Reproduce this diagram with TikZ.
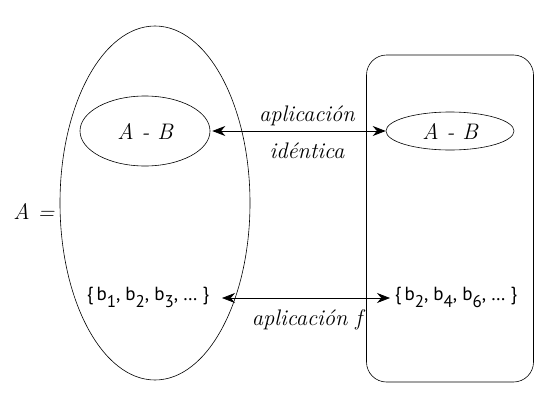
\documentclass[tikz,border=0pt]{standalone}
\usepackage{fontspec}
\newfontfamily\bsans{PT Sans}
\usetikzlibrary{arrows.meta,shapes.geometric}
\newcommand{\bsub}[1]{\raisebox{-7pt}{\fontsize{17}{18}\selectfont #1}}
\tikzset{
  lbl/.style={font=\rmfamily\fontsize{22.5}{25}\selectfont\itshape},
  setlbl/.style={font=\bsans\fontsize{19}{21}\selectfont},
  conn/.style={line width=0.7pt,{Stealth[length=13pt,width=10pt]}-{Stealth[length=13pt,width=10pt]}},
  shp/.style={draw,line width=0.6pt}
}
\begin{document}
\begin{tikzpicture}[x=1pt,y=-1pt]
\useasboundingbox (0,0) rectangle (535,407);
\node[shp,ellipse,minimum width=190pt,minimum height=354pt,inner sep=0pt] (bigA) at (155,203) {};
\node[shp,rounded corners=20pt,minimum width=167pt,minimum height=327pt,inner sep=0pt] (bigB) at (450,218.5) {};
\node[shp,ellipse,minimum width=130pt,minimum height=70pt,inner sep=0pt,lbl] (ab1) at (145,131) {A - B};
\node[shp,ellipse,minimum width=128pt,minimum height=38pt,inner sep=0pt,lbl] (ab2) at (450,131) {A - B};
\node[lbl] (Aeq) at (34,211) {A =};
\node[setlbl] (s1) at (148,297) {\{\,b\bsub{1}, b\bsub{2}, b\bsub{3}, \dots\ \}};
\node[setlbl] (s2) at (456,297) {\{\,b\bsub{2}, b\bsub{4}, b\bsub{6}, \dots\ \}};
\draw[conn] (ab1.east) ++(2,0) coordinate (c1) -- (c1 -| ab2.west);
\coordinate (d1) at (222,298);
\coordinate (d2) at (390,298);
\draw[conn] (d1) -- (d2);
\node[lbl] (t1) at (307,116) {aplicación};
\node[lbl] (t2) at (307,151) {idéntica};
\node[lbl] (t3) at (307,320) {aplicación f};
\end{tikzpicture}
\end{document}
